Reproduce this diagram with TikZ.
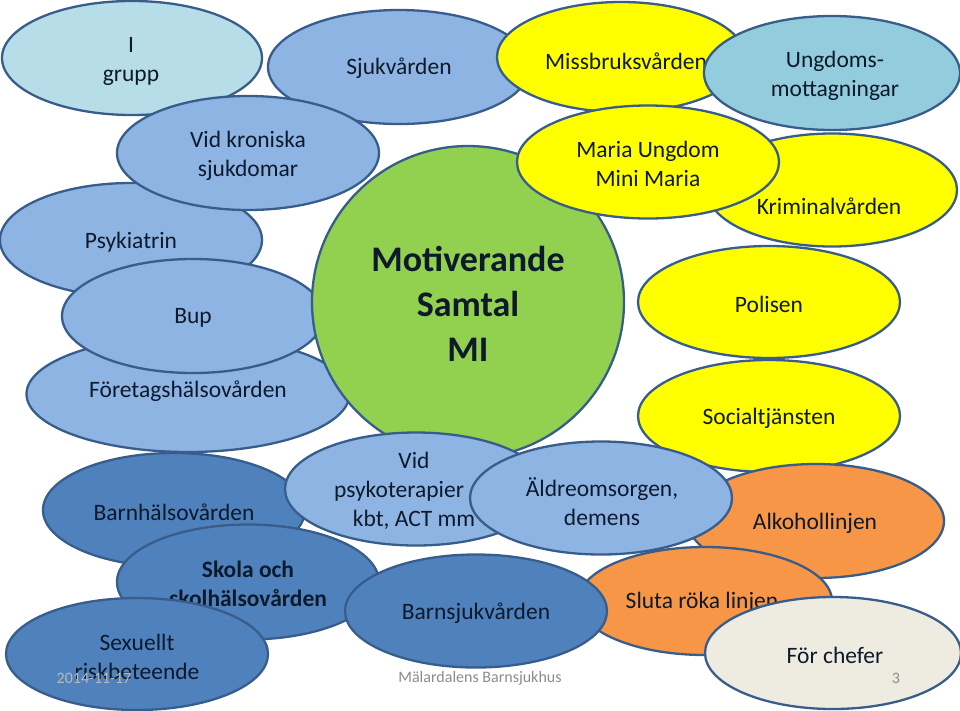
\documentclass[tikz,border=0pt]{standalone}
\usepackage{fontspec}
\setmainfont{Carlito}
\usetikzlibrary{shapes.geometric}
\definecolor{outl}{RGB}{56,93,138}
\definecolor{ink}{RGB}{14,26,44}
\definecolor{lblue}{RGB}{183,221,232}
\definecolor{mblue}{RGB}{142,180,227}
\definecolor{dblue}{RGB}{79,129,189}
\definecolor{tblue}{RGB}{147,205,221}
\definecolor{yel}{RGB}{255,255,0}
\definecolor{grn}{RGB}{146,208,80}
\definecolor{org}{RGB}{247,150,70}
\definecolor{beige}{RGB}{238,236,225}
\definecolor{foot}{RGB}{140,140,140}
\tikzset{
  blob/.style={ellipse, draw=outl, line width=2.3pt, inner sep=0pt},
  txt/.style={text=ink, font=\fontsize{23.5}{29}\selectfont, align=center, inner sep=0pt},
  foottxt/.style={text=foot, font=\fontsize{16}{19}\selectfont, inner sep=0pt}
}
\begin{document}
\begin{tikzpicture}[x=1pt,y=-1pt]
\useasboundingbox (0,0) rectangle (960,710);
% top row
\node[blob, fill=lblue, minimum width=260, minimum height=114] (grupp) at (132,58) {};
\node[txt] (grupp-t) at (131,61) {I\\grupp};
\node[blob, fill=mblue, minimum width=262, minimum height=114] (sjuk) at (399,67) {};
\node[txt] (sjuk-t) at (399,68) {Sjukvården};
\node[blob, fill=yel, minimum width=248, minimum height=110] (missb) at (621,57) {};
\node[txt] (missb-t) at (626,61) {Missbruksvården};
\node[blob, fill=tblue, minimum width=256, minimum height=114] (ungd) at (832,73) {};
\node[txt] (ungd-t) at (835,76) {Ungdoms-\\mottagningar};
% left column
\node[blob, fill=mblue, minimum width=262, minimum height=114] (psyk) at (131,240) {};
\node[txt] (psyk-t) at (131,242) {Psykiatrin};
\node[blob, fill=mblue, minimum width=262, minimum height=114] (kron) at (248,153) {};
\node[txt] (kron-t) at (248,156) {Vid kroniska\\sjukdomar};
\node[blob, fill=mblue, minimum width=323, minimum height=116] (foret) at (188,394) {};
\node[txt] (foret-t) at (188,391) {Företagshälsovården};
\node[blob, fill=mblue, minimum width=262, minimum height=114] (bup) at (193,316) {};
\node[txt] (bup-t) at (193,318) {Bup};
% centre
\node[circle, draw=outl, line width=2.3pt, fill=grn, minimum size=312, inner sep=0pt] (mi) at (468,302) {};
\node[txt, font=\fontsize{36}{45}\bfseries] (mi-t) at (468,304) {Motiverande\\Samtal\\MI};
% right column
\node[blob, fill=yel, minimum width=250, minimum height=113] (krim) at (832,190) {};
\node[txt] (krim-t) at (829,206) {Kriminalvården};
\node[blob, fill=yel, minimum width=262, minimum height=113] (maria) at (648,162) {};
\node[txt] (maria-t) at (648,164) {Maria Ungdom\\Mini Maria};
\node[blob, fill=yel, minimum width=262, minimum height=112] (polis) at (769,302) {};
\node[txt] (polis-t) at (769,304) {Polisen};
\node[blob, fill=yel, minimum width=262, minimum height=112] (soc) at (769,416) {};
\node[txt] (soc-t) at (769,418) {Socialtjänsten};
\node[blob, fill=org, minimum width=256, minimum height=114] (alko) at (816,521) {};
\node[txt] (alko-t) at (815,523) {Alkohollinjen};
\node[blob, fill=org, minimum width=254, minimum height=108] (sluta) at (705,601) {};
\node[txt] (sluta-t) at (702,602) {Sluta röka linjen};
% lower rows
\node[blob, fill=dblue, minimum width=262, minimum height=114] (barnh) at (174,510) {};
\node[txt] (barnh-t) at (174,512) {Barnhälsovården};
\node[blob, fill=mblue, minimum width=262, minimum height=113] (psykot) at (416,489) {};
\node[txt] (psykot-t) at (414,491) {Vid\\\mbox{psykoterapier\hspace{30pt}}\\kbt, ACT mm};
\node[blob, fill=mblue, minimum width=262, minimum height=113] (aldre) at (601,498) {};
\node[txt] (aldre-t) at (602,502) {Äldreomsorgen,\\demens};
\node[blob, fill=dblue, minimum width=262, minimum height=115] (skola) at (248,582) {};
\node[txt, font=\fontsize{23.5}{29}\bfseries] (skola-t) at (248,584) {Skola och\\skolhälsovården};
\node[blob, fill=dblue, minimum width=262, minimum height=113] (barns) at (476,611) {};
\node[txt] (barns-t) at (476,613) {Barnsjukvården};
\node[blob, fill=dblue, minimum width=262, minimum height=112] (sex) at (137,654) {};
\node[txt] (sex-t) at (137,657) {Sexuellt\\riskbeteende};
\node[blob, fill=beige, minimum width=256, minimum height=112] (chef) at (833,653) {};
\node[txt] (chef-t) at (835,655) {För chefer};
% footer
\node[foottxt, text=foot!60] (date) at (94,678) {2014-11-17};
\node[foottxt] (org) at (480,678) {Mälardalens Barnsjukhus};
\node[foottxt] (page) at (896,678) {3};
\end{tikzpicture}
\end{document}
